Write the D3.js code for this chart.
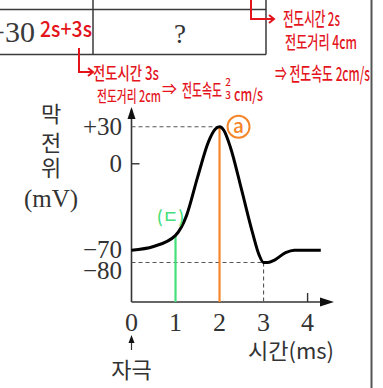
<!DOCTYPE html>
<html><head><meta charset="utf-8">
<script src="https://cdn.jsdelivr.net/npm/d3@7"></script>
<style>html,body{margin:0;padding:0;background:#fff;overflow:hidden}</style>
</head><body>
<svg id="c" width="383" height="388"></svg>
<script>
// ---- data ----
const times = [0, 0.5, 1.0, 1.25, 1.5, 1.75, 1.9, 2.0, 2.1, 2.25, 2.5, 2.75, 2.9, 3.0, 3.1, 3.25, 3.5, 3.7, 4.3];
const potentials = [-70, -67, -58, -42, -11, 18, 28, 30, 27, 13, -21, -56, -74, -80, -80, -78, -72, -70, -70];
const yTicks = [30, 0, -70, -80];
const yTickLabels = ["+30", "0", "\u221270", "\u221280"];
const xTicks = [0, 1, 2, 3, 4];
const xTickLabels = ["0", "1", "2", "3", "4"];
const yTitle = ["막", "전", "위", "(mV)"];
const xTitle = "시간(ms)";
const stimLabel = "자극";
const markTimes = [1, 2];      // green (ㄷ), orange (a)
const tableCells = ["+30", "?"];
const noteTable = "2s+3s";
const notesA = ["전도시간 3s", "전도거리 2cm", "⇒", "전도속도", "2", "3", "cm/s"];
const notesB = ["전도시간 2s", "전도거리 4cm", "⇒ 전도속도 2cm/s"];

const svg = d3.select("#c");
const x = d3.scaleLinear().domain([0, 4.6]).range([131.5, 334]);
const y = d3.scaleLinear().domain([-112, 46]).range([302, 107]);
const red = "#e3141c", green = "#45e07c", orange = "#f5862a", axisCol = "#333";
const serif = "'Liberation Serif','DejaVu Serif',serif";
const kr = "'Noto Sans CJK KR','Noto Sans',sans-serif";

// ---- table fragment ----
const tbl = svg.append("g").attr("stroke", "#3a3a3a").attr("stroke-width", 1.5);
tbl.append("line").attr("x1", 0).attr("x2", 266).attr("y1", 9.5).attr("y2", 9.5);
tbl.append("line").attr("x1", 0).attr("x2", 266).attr("y1", 54.5).attr("y2", 54.5);
tbl.append("line").attr("x1", 93).attr("x2", 93).attr("y1", 0).attr("y2", 54.5);
tbl.append("line").attr("x1", 266).attr("x2", 266).attr("y1", 0).attr("y2", 54.5);
svg.append("text").attr("x", 35).attr("y", 42).attr("text-anchor", "end")
  .attr("font-family", serif).attr("font-size", 30).attr("fill", "#3a3a3a").text(tableCells[0]);
svg.append("text").attr("x", 180).attr("y", 43).attr("text-anchor", "middle")
  .attr("font-family", serif).attr("font-size", 27).attr("fill", "#333").text(tableCells[1]);

// right border
svg.append("line").attr("x1", 371.5).attr("x2", 371.5).attr("y1", 0).attr("y2", 388)
  .attr("stroke", "#555").attr("stroke-width", 2);

// ---- red notes (handwriting: condensed by a horizontal scale) ----
function note(t, xx, yy, w, size, anchor) {
  const gg = svg.append("g").attr("transform", `translate(${xx},${yy})`);
  const el = gg.append("text").attr("x", 0).attr("y", 0).attr("font-family", kr)
    .attr("font-size", size).attr("font-weight", 500).attr("fill", red)
    .attr("text-anchor", anchor || "start").text(t);
  if (w) {
    const nat = el.node().getComputedTextLength();
    const s = Math.min(1.2, w / nat);
    gg.attr("transform", `translate(${xx},${yy}) scale(${s},1)`);
  }
}
note(noteTable, 40, 37, 52, 22);
note(notesA[0], 93, 80, 66, 18);
note(notesA[1], 97, 102, 64, 16);
note(notesA[2], 162, 94, 15, 14);
note(notesA[3], 182, 97, 40, 18);
note(notesA[4], 228, 86, null, 10, "middle");
note(notesA[5], 228, 99, null, 10, "middle");
note(notesA[6], 234, 101, 29, 17);
note(notesB[0], 283, 26, 57, 19);
note(notesB[1], 285, 49, 72, 18);
note(notesB[2], 275, 81, 95, 19);

function bracket(xv, y0, y1, x1) {
  svg.append("path").attr("d", `M${xv},${y0}V${y1}H${x1}`).attr("fill", "none")
    .attr("stroke", red).attr("stroke-width", 2);
  svg.append("path").attr("d", `M${x1 - 5},${y1 - 4}L${x1},${y1}L${x1 - 5},${y1 + 4}`)
    .attr("fill", "none").attr("stroke", red).attr("stroke-width", 2);
}
bracket(251, 0, 19, 274);
bracket(79, 48, 72, 93);

// ---- axes ----
const g = svg.append("g");
g.append("line").attr("x1", x(0)).attr("x2", x(0)).attr("y1", y(-112)).attr("y2", y(44))
  .attr("stroke", axisCol).attr("stroke-width", 1.6);
g.append("line").attr("x1", x(0)).attr("x2", x(4.5)).attr("y1", y(-112)).attr("y2", y(-112))
  .attr("stroke", axisCol).attr("stroke-width", 1.6);
g.append("path").attr("d", `M${x(0)},${y(46)}L${x(0) - 4},${y(46) + 12}L${x(0) + 4},${y(46) + 12}Z`).attr("fill", "#111");
g.append("path").attr("d", `M${x(4.6)},${y(-112)}L${x(4.6) - 14},${y(-112) - 4.5}L${x(4.6) - 14},${y(-112) + 4.5}Z`).attr("fill", "#111");

// dashed guides
const dash = g.append("g").attr("stroke", "#555").attr("stroke-width", 1.1).attr("stroke-dasharray", "4,3").attr("fill", "none");
dash.append("line").attr("x1", x(0)).attr("x2", x(2)).attr("y1", y(30)).attr("y2", y(30));
dash.append("line").attr("x1", x(0)).attr("x2", x(3)).attr("y1", y(-80)).attr("y2", y(-80));
dash.append("line").attr("x1", x(3)).attr("x2", x(3)).attr("y1", y(-80)).attr("y2", y(-112));

// ticks
g.append("line").attr("x1", x(0)).attr("x2", x(0) + 8).attr("y1", y(0)).attr("y2", y(0)).attr("stroke", axisCol).attr("stroke-width", 1.4);
g.append("line").attr("x1", x(4)).attr("x2", x(4)).attr("y1", y(-112)).attr("y2", y(-112) - 9).attr("stroke", axisCol).attr("stroke-width", 1.4);

// y tick labels
const yOff = [0, 0, 0, 8];
yTicks.forEach((v, i) => {
  g.append("text").attr("x", 122).attr("y", y(v) + yOff[i]).attr("dy", "0.33em")
    .attr("text-anchor", "end").attr("font-family", serif).attr("font-size", 25).attr("fill", "#333").text(yTickLabels[i]);
});
// x tick labels
xTicks.forEach((v, i) => {
  g.append("text").attr("x", x(v)).attr("y", 331).attr("text-anchor", "middle")
    .attr("font-family", serif).attr("font-size", 26).attr("fill", "#333").text(xTickLabels[i]);
});

// y title
const yTitleY = [114, 143, 168, 198];
yTitle.forEach((t, i) => {
  g.append("text").attr("x", 51).attr("y", yTitleY[i]).attr("dy", "0.35em").attr("text-anchor", "middle")
    .attr("font-family", i < 3 ? kr : serif).attr("font-size", i < 3 ? 22 : 25).attr("fill", "#333").text(t);
});
// x title
g.append("text").attr("x", 334).attr("y", 359).attr("text-anchor", "end").attr("font-family", kr)
  .attr("font-size", 22).attr("fill", "#333").text(xTitle);
// stimulus
g.append("line").attr("x1", x(0)).attr("x2", x(0)).attr("y1", 350).attr("y2", 340).attr("stroke", axisCol).attr("stroke-width", 1.2);
g.append("path").attr("d", `M${x(0)},${335}L${x(0) - 3},${343}L${x(0) + 3},${343}Z`).attr("fill", "#111");
g.append("text").attr("x", x(0)).attr("y", 378).attr("text-anchor", "middle").attr("font-family", kr)
  .attr("font-size", 22).attr("fill", "#333").text(stimLabel);

// ---- marks ----
const pts = times.map((t, i) => [t, potentials[i]]);
const valAt = t => potentials[times.indexOf(t)];
g.append("line").attr("x1", x(markTimes[0])).attr("x2", x(markTimes[0])).attr("y1", y(valAt(markTimes[0]))).attr("y2", y(-112))
  .attr("stroke", green).attr("stroke-width", 2.2);
g.append("line").attr("x1", x(markTimes[1])).attr("x2", x(markTimes[1])).attr("y1", y(valAt(markTimes[1]))).attr("y2", y(-112))
  .attr("stroke", orange).attr("stroke-width", 2.2);

const line = d3.line().x(d => x(d[0])).y(d => y(d[1])).curve(d3.curveMonotoneX);
g.append("path").datum(pts).attr("d", line).attr("fill", "none").attr("stroke", "#000").attr("stroke-width", 3);

// annotations
g.append("text").attr("x", x(1) - 5).attr("y", y(-48)).attr("text-anchor", "middle").attr("font-family", kr)
  .attr("font-size", 17).attr("font-weight", 500).attr("fill", green).text("(ㄷ)");
g.append("circle").attr("cx", x(2) + 19).attr("cy", y(30)).attr("r", 11).attr("fill", "#fff").attr("stroke", orange).attr("stroke-width", 2);
g.append("text").attr("x", x(2) + 19).attr("y", y(30)).attr("dy", "0.33em").attr("text-anchor", "middle").attr("font-family", kr)
  .attr("font-size", 19).attr("font-weight", 500).attr("fill", orange).text("a");
</script>
</body></html>
